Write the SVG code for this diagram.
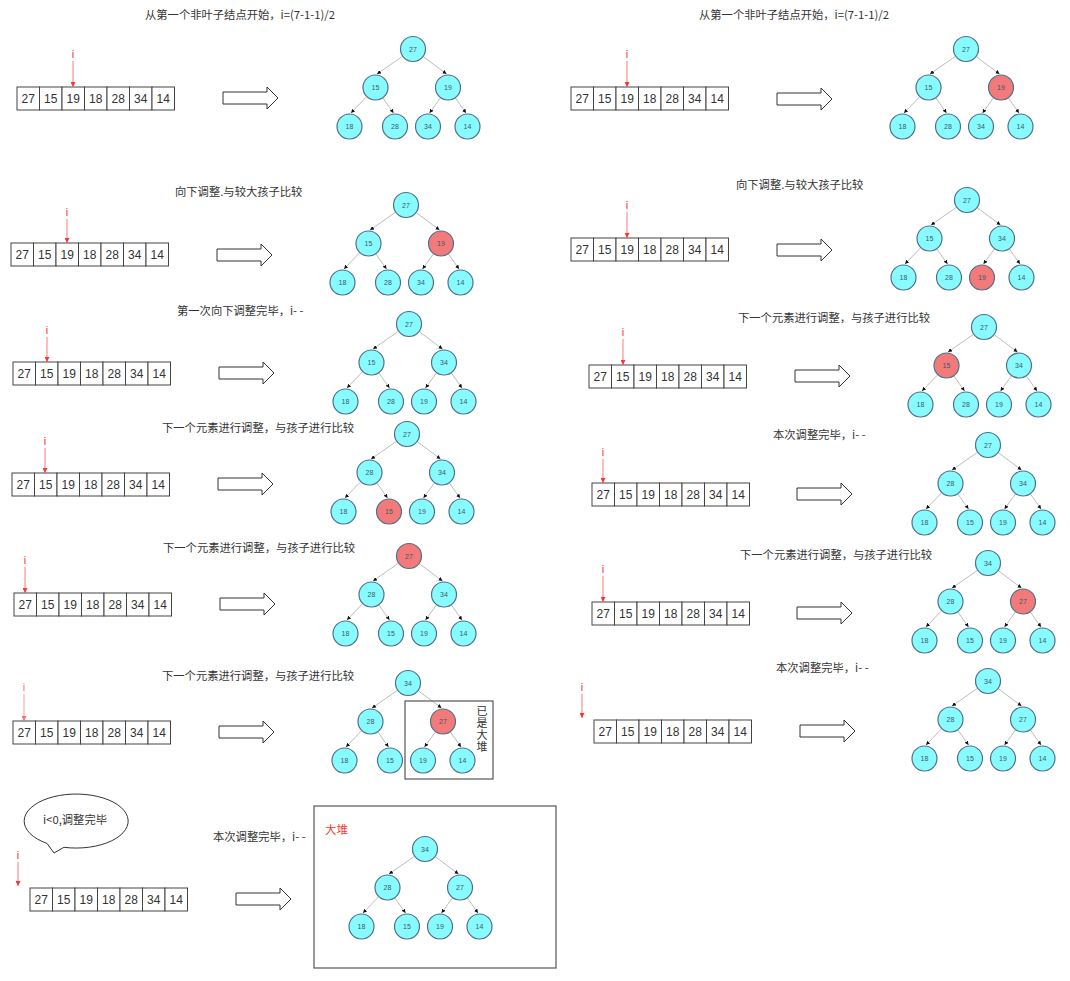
<svg xmlns="http://www.w3.org/2000/svg" width="1070" height="981" viewBox="0 0 1070 981">
<defs>
<marker id="ah" markerUnits="userSpaceOnUse" markerWidth="4" markerHeight="4" refX="4" refY="2" orient="auto"><path d="M0,0 L4,2 L0,4 z" fill="#111"/></marker>
<marker id="rh" markerUnits="userSpaceOnUse" markerWidth="5" markerHeight="5" refX="5" refY="2.5" orient="auto"><path d="M0,0 L5,2.5 L0,5 z" fill="#f33"/></marker>
<style>
.t{font-family:"Noto Sans CJK SC","Liberation Sans",sans-serif;font-size:11.3px;fill:#333}
.cell{fill:#fff;stroke:#444;stroke-width:1}
.ct{font-family:"Liberation Sans",sans-serif;font-size:12px;fill:#333;text-anchor:middle}
.n circle{fill:#87fbff;stroke:#4f7186;stroke-width:1.2}
.n.red circle{fill:#f27a7a}
.nt{font-family:"Liberation Sans",sans-serif;font-size:7px;fill:#3d5a66;text-anchor:middle}
.e{stroke:#bdbdbd;stroke-width:1;fill:none;marker-end:url(#ah)}
.ha{fill:#fff;stroke:#333;stroke-width:1}
.ip{font-family:"Liberation Sans",sans-serif;font-size:11px;fill:#f33;text-anchor:middle}
.il{stroke:#f55;stroke-width:0.8;marker-end:url(#rh)}
.box{fill:none;stroke:#555;stroke-width:1.2}
.red-t{font-family:"Noto Sans CJK SC","Liberation Sans",sans-serif;font-size:11.5px;fill:#f33}
.vt{font-family:"Noto Sans CJK SC","Liberation Sans",sans-serif;font-size:11px;fill:#333;writing-mode:vertical-rl;letter-spacing:1px}
</style>
</defs>

<!-- Panel 1 -->
<g id="panel1">
<text class="t" x="145" y="19">从第一个非叶子结点开始，i=(7-1-1)/2</text>
<g id="p1-array" transform="translate(17,87)">
<rect class="cell" x="0" y="0" width="22.5" height="23"/><rect class="cell" x="22.5" y="0" width="22.5" height="23"/><rect class="cell" x="45" y="0" width="22.5" height="23"/><rect class="cell" x="67.5" y="0" width="22.5" height="23"/><rect class="cell" x="90" y="0" width="22.5" height="23"/><rect class="cell" x="112.5" y="0" width="22.5" height="23"/><rect class="cell" x="135" y="0" width="22.5" height="23"/>
<text class="ct" x="11.25" y="16">27</text><text class="ct" x="33.75" y="16">15</text><text class="ct" x="56.25" y="16">19</text><text class="ct" x="78.75" y="16">18</text><text class="ct" x="101.25" y="16">28</text><text class="ct" x="123.75" y="16">34</text><text class="ct" x="146.25" y="16">14</text>
</g>
<g id="p1-ptr"><text class="ip" x="73" y="58">i</text><line class="il" x1="73" y1="61" x2="73" y2="87"/></g>
<polygon id="p1-arrow" class="ha" transform="translate(223,98)" points="0,-6 44,-6 44,-11 55,0 44,11 44,6 0,6"/>
<g id="p1-tree" transform="translate(413,49)">
<g id="p1-edges"><path class="e" d="M-10.27,7.13 L-36,25"/><path class="e" d="M10.02,7.48 L33.5,25"/><path class="e" d="M-46.16,47.51 L-62,64"/><path class="e" d="M-30.29,48.71 L-19.5,64"/><path class="e" d="M27.66,48.62 L16.5,64"/><path class="e" d="M42.21,48.71 L53,64"/></g>
<g id="p1-n0" class="n"><circle cx="0" cy="0" r="12.5"/><text class="nt" x="0" y="2.5">27</text></g>
<g id="p1-n1" class="n"><circle cx="-37.5" cy="38.5" r="12.5"/><text class="nt" x="-37.5" y="41">15</text></g>
<g id="p1-n2" class="n"><circle cx="35" cy="38.5" r="12.5"/><text class="nt" x="35" y="41">19</text></g>
<g id="p1-n3" class="n"><circle cx="-63.5" cy="77.5" r="12.5"/><text class="nt" x="-63.5" y="80">18</text></g>
<g id="p1-n4" class="n"><circle cx="-18" cy="77.5" r="12.5"/><text class="nt" x="-18" y="80">28</text></g>
<g id="p1-n5" class="n"><circle cx="15" cy="77.5" r="12.5"/><text class="nt" x="15" y="80">34</text></g>
<g id="p1-n6" class="n"><circle cx="54.5" cy="77.5" r="12.5"/><text class="nt" x="54.5" y="80">14</text></g>
</g>
</g>

<!-- Panel 2 -->
<g id="panel2">
<text class="t" x="699" y="19">从第一个非叶子结点开始，i=(7-1-1)/2</text>
<g id="p2-array" transform="translate(571,87)">
<rect class="cell" x="0" y="0" width="22.5" height="23"/><rect class="cell" x="22.5" y="0" width="22.5" height="23"/><rect class="cell" x="45" y="0" width="22.5" height="23"/><rect class="cell" x="67.5" y="0" width="22.5" height="23"/><rect class="cell" x="90" y="0" width="22.5" height="23"/><rect class="cell" x="112.5" y="0" width="22.5" height="23"/><rect class="cell" x="135" y="0" width="22.5" height="23"/>
<text class="ct" x="11.25" y="16">27</text><text class="ct" x="33.75" y="16">15</text><text class="ct" x="56.25" y="16">19</text><text class="ct" x="78.75" y="16">18</text><text class="ct" x="101.25" y="16">28</text><text class="ct" x="123.75" y="16">34</text><text class="ct" x="146.25" y="16">14</text>
</g>
<g id="p2-ptr"><text class="ip" x="627" y="58">i</text><line class="il" x1="627" y1="61" x2="627" y2="87"/></g>
<polygon id="p2-arrow" class="ha" transform="translate(777,99)" points="0,-6 44,-6 44,-11 55,0 44,11 44,6 0,6"/>
<g id="p2-tree" transform="translate(966,49)">
<g id="p2-edges"><path class="e" d="M-10.27,7.13 L-36,25"/><path class="e" d="M10.02,7.48 L33.5,25"/><path class="e" d="M-46.16,47.51 L-62,64"/><path class="e" d="M-30.29,48.71 L-19.5,64"/><path class="e" d="M27.66,48.62 L16.5,64"/><path class="e" d="M42.21,48.71 L53,64"/></g>
<g id="p2-n0" class="n"><circle cx="0" cy="0" r="12.5"/><text class="nt" x="0" y="2.5">27</text></g>
<g id="p2-n1" class="n"><circle cx="-37.5" cy="38.5" r="12.5"/><text class="nt" x="-37.5" y="41">15</text></g>
<g id="p2-n2" class="n red"><circle cx="35" cy="38.5" r="12.5"/><text class="nt" x="35" y="41">19</text></g>
<g id="p2-n3" class="n"><circle cx="-63.5" cy="77.5" r="12.5"/><text class="nt" x="-63.5" y="80">18</text></g>
<g id="p2-n4" class="n"><circle cx="-18" cy="77.5" r="12.5"/><text class="nt" x="-18" y="80">28</text></g>
<g id="p2-n5" class="n"><circle cx="15" cy="77.5" r="12.5"/><text class="nt" x="15" y="80">34</text></g>
<g id="p2-n6" class="n"><circle cx="54.5" cy="77.5" r="12.5"/><text class="nt" x="54.5" y="80">14</text></g>
</g>
</g>

<!-- Panel 3 -->
<g id="panel3">
<text class="t" x="175" y="196">向下调整.与较大孩子比较</text>
<g id="p3-array" transform="translate(11,243)">
<rect class="cell" x="0" y="0" width="22.5" height="23"/><rect class="cell" x="22.5" y="0" width="22.5" height="23"/><rect class="cell" x="45" y="0" width="22.5" height="23"/><rect class="cell" x="67.5" y="0" width="22.5" height="23"/><rect class="cell" x="90" y="0" width="22.5" height="23"/><rect class="cell" x="112.5" y="0" width="22.5" height="23"/><rect class="cell" x="135" y="0" width="22.5" height="23"/>
<text class="ct" x="11.25" y="16">27</text><text class="ct" x="33.75" y="16">15</text><text class="ct" x="56.25" y="16">19</text><text class="ct" x="78.75" y="16">18</text><text class="ct" x="101.25" y="16">28</text><text class="ct" x="123.75" y="16">34</text><text class="ct" x="146.25" y="16">14</text>
</g>
<g id="p3-ptr"><text class="ip" x="67" y="216">i</text><line class="il" x1="67" y1="219" x2="67" y2="243"/></g>
<polygon id="p3-arrow" class="ha" transform="translate(217,255)" points="0,-6 44,-6 44,-11 55,0 44,11 44,6 0,6"/>
<g id="p3-tree" transform="translate(406,205)">
<g id="p3-edges"><path class="e" d="M-10.27,7.13 L-36,25"/><path class="e" d="M10.02,7.48 L33.5,25"/><path class="e" d="M-46.16,47.51 L-62,64"/><path class="e" d="M-30.29,48.71 L-19.5,64"/><path class="e" d="M27.66,48.62 L16.5,64"/><path class="e" d="M42.21,48.71 L53,64"/></g>
<g id="p3-n0" class="n"><circle cx="0" cy="0" r="12.5"/><text class="nt" x="0" y="2.5">27</text></g>
<g id="p3-n1" class="n"><circle cx="-37.5" cy="38.5" r="12.5"/><text class="nt" x="-37.5" y="41">15</text></g>
<g id="p3-n2" class="n red"><circle cx="35" cy="38.5" r="12.5"/><text class="nt" x="35" y="41">19</text></g>
<g id="p3-n3" class="n"><circle cx="-63.5" cy="77.5" r="12.5"/><text class="nt" x="-63.5" y="80">18</text></g>
<g id="p3-n4" class="n"><circle cx="-18" cy="77.5" r="12.5"/><text class="nt" x="-18" y="80">28</text></g>
<g id="p3-n5" class="n"><circle cx="15" cy="77.5" r="12.5"/><text class="nt" x="15" y="80">34</text></g>
<g id="p3-n6" class="n"><circle cx="54.5" cy="77.5" r="12.5"/><text class="nt" x="54.5" y="80">14</text></g>
</g>
</g>

<!-- Panel 4 -->
<g id="panel4">
<text class="t" x="736" y="189">向下调整.与较大孩子比较</text>
<g id="p4-array" transform="translate(571,238)">
<rect class="cell" x="0" y="0" width="22.5" height="23"/><rect class="cell" x="22.5" y="0" width="22.5" height="23"/><rect class="cell" x="45" y="0" width="22.5" height="23"/><rect class="cell" x="67.5" y="0" width="22.5" height="23"/><rect class="cell" x="90" y="0" width="22.5" height="23"/><rect class="cell" x="112.5" y="0" width="22.5" height="23"/><rect class="cell" x="135" y="0" width="22.5" height="23"/>
<text class="ct" x="11.25" y="16">27</text><text class="ct" x="33.75" y="16">15</text><text class="ct" x="56.25" y="16">19</text><text class="ct" x="78.75" y="16">18</text><text class="ct" x="101.25" y="16">28</text><text class="ct" x="123.75" y="16">34</text><text class="ct" x="146.25" y="16">14</text>
</g>
<g id="p4-ptr"><text class="ip" x="627" y="209">i</text><line class="il" x1="627" y1="212" x2="627" y2="238"/></g>
<polygon id="p4-arrow" class="ha" transform="translate(777,250)" points="0,-6 44,-6 44,-11 55,0 44,11 44,6 0,6"/>
<g id="p4-tree" transform="translate(967,200)">
<g id="p4-edges"><path class="e" d="M-10.27,7.13 L-36,25"/><path class="e" d="M10.02,7.48 L33.5,25"/><path class="e" d="M-46.16,47.51 L-62,64"/><path class="e" d="M-30.29,48.71 L-19.5,64"/><path class="e" d="M27.66,48.62 L16.5,64"/><path class="e" d="M42.21,48.71 L53,64"/></g>
<g id="p4-n0" class="n"><circle cx="0" cy="0" r="12.5"/><text class="nt" x="0" y="2.5">27</text></g>
<g id="p4-n1" class="n"><circle cx="-37.5" cy="38.5" r="12.5"/><text class="nt" x="-37.5" y="41">15</text></g>
<g id="p4-n2" class="n"><circle cx="35" cy="38.5" r="12.5"/><text class="nt" x="35" y="41">34</text></g>
<g id="p4-n3" class="n"><circle cx="-63.5" cy="77.5" r="12.5"/><text class="nt" x="-63.5" y="80">18</text></g>
<g id="p4-n4" class="n"><circle cx="-18" cy="77.5" r="12.5"/><text class="nt" x="-18" y="80">28</text></g>
<g id="p4-n5" class="n red"><circle cx="15" cy="77.5" r="12.5"/><text class="nt" x="15" y="80">19</text></g>
<g id="p4-n6" class="n"><circle cx="54.5" cy="77.5" r="12.5"/><text class="nt" x="54.5" y="80">14</text></g>
</g>
</g>

<!-- Panel 5 -->
<g id="panel5">
<text class="t" x="177" y="315">第一次向下调整完毕，i- -</text>
<g id="p5-array" transform="translate(13,362)">
<rect class="cell" x="0" y="0" width="22.5" height="23"/><rect class="cell" x="22.5" y="0" width="22.5" height="23"/><rect class="cell" x="45" y="0" width="22.5" height="23"/><rect class="cell" x="67.5" y="0" width="22.5" height="23"/><rect class="cell" x="90" y="0" width="22.5" height="23"/><rect class="cell" x="112.5" y="0" width="22.5" height="23"/><rect class="cell" x="135" y="0" width="22.5" height="23"/>
<text class="ct" x="11.25" y="16">27</text><text class="ct" x="33.75" y="16">15</text><text class="ct" x="56.25" y="16">19</text><text class="ct" x="78.75" y="16">18</text><text class="ct" x="101.25" y="16">28</text><text class="ct" x="123.75" y="16">34</text><text class="ct" x="146.25" y="16">14</text>
</g>
<g id="p5-ptr"><text class="ip" x="47" y="334">i</text><line class="il" x1="47" y1="337" x2="47" y2="362"/></g>
<polygon id="p5-arrow" class="ha" transform="translate(219,373)" points="0,-6 44,-6 44,-11 55,0 44,11 44,6 0,6"/>
<g id="p5-tree" transform="translate(409,324)">
<g id="p5-edges"><path class="e" d="M-10.27,7.13 L-36,25"/><path class="e" d="M10.02,7.48 L33.5,25"/><path class="e" d="M-46.16,47.51 L-62,64"/><path class="e" d="M-30.29,48.71 L-19.5,64"/><path class="e" d="M27.66,48.62 L16.5,64"/><path class="e" d="M42.21,48.71 L53,64"/></g>
<g id="p5-n0" class="n"><circle cx="0" cy="0" r="12.5"/><text class="nt" x="0" y="2.5">27</text></g>
<g id="p5-n1" class="n"><circle cx="-37.5" cy="38.5" r="12.5"/><text class="nt" x="-37.5" y="41">15</text></g>
<g id="p5-n2" class="n"><circle cx="35" cy="38.5" r="12.5"/><text class="nt" x="35" y="41">34</text></g>
<g id="p5-n3" class="n"><circle cx="-63.5" cy="77.5" r="12.5"/><text class="nt" x="-63.5" y="80">18</text></g>
<g id="p5-n4" class="n"><circle cx="-18" cy="77.5" r="12.5"/><text class="nt" x="-18" y="80">28</text></g>
<g id="p5-n5" class="n"><circle cx="15" cy="77.5" r="12.5"/><text class="nt" x="15" y="80">19</text></g>
<g id="p5-n6" class="n"><circle cx="54.5" cy="77.5" r="12.5"/><text class="nt" x="54.5" y="80">14</text></g>
</g>
</g>

<!-- Panel 6 -->
<g id="panel6">
<text class="t" x="738" y="322">下一个元素进行调整，与孩子进行比较</text>
<g id="p6-array" transform="translate(589,365)">
<rect class="cell" x="0" y="0" width="22.5" height="23"/><rect class="cell" x="22.5" y="0" width="22.5" height="23"/><rect class="cell" x="45" y="0" width="22.5" height="23"/><rect class="cell" x="67.5" y="0" width="22.5" height="23"/><rect class="cell" x="90" y="0" width="22.5" height="23"/><rect class="cell" x="112.5" y="0" width="22.5" height="23"/><rect class="cell" x="135" y="0" width="22.5" height="23"/>
<text class="ct" x="11.25" y="16">27</text><text class="ct" x="33.75" y="16">15</text><text class="ct" x="56.25" y="16">19</text><text class="ct" x="78.75" y="16">18</text><text class="ct" x="101.25" y="16">28</text><text class="ct" x="123.75" y="16">34</text><text class="ct" x="146.25" y="16">14</text>
</g>
<g id="p6-ptr"><text class="ip" x="623" y="336">i</text><line class="il" x1="623" y1="339" x2="623" y2="365"/></g>
<polygon id="p6-arrow" class="ha" transform="translate(795,376)" points="0,-6 44,-6 44,-11 55,0 44,11 44,6 0,6"/>
<g id="p6-tree" transform="translate(984,327)">
<g id="p6-edges"><path class="e" d="M-10.27,7.13 L-36,25"/><path class="e" d="M10.02,7.48 L33.5,25"/><path class="e" d="M-46.16,47.51 L-62,64"/><path class="e" d="M-30.29,48.71 L-19.5,64"/><path class="e" d="M27.66,48.62 L16.5,64"/><path class="e" d="M42.21,48.71 L53,64"/></g>
<g id="p6-n0" class="n"><circle cx="0" cy="0" r="12.5"/><text class="nt" x="0" y="2.5">27</text></g>
<g id="p6-n1" class="n red"><circle cx="-37.5" cy="38.5" r="12.5"/><text class="nt" x="-37.5" y="41">15</text></g>
<g id="p6-n2" class="n"><circle cx="35" cy="38.5" r="12.5"/><text class="nt" x="35" y="41">34</text></g>
<g id="p6-n3" class="n"><circle cx="-63.5" cy="77.5" r="12.5"/><text class="nt" x="-63.5" y="80">18</text></g>
<g id="p6-n4" class="n"><circle cx="-18" cy="77.5" r="12.5"/><text class="nt" x="-18" y="80">28</text></g>
<g id="p6-n5" class="n"><circle cx="15" cy="77.5" r="12.5"/><text class="nt" x="15" y="80">19</text></g>
<g id="p6-n6" class="n"><circle cx="54.5" cy="77.5" r="12.5"/><text class="nt" x="54.5" y="80">14</text></g>
</g>
</g>

<!-- Panel 7 -->
<g id="panel7">
<text class="t" x="162" y="432">下一个元素进行调整，与孩子进行比较</text>
<g id="p7-array" transform="translate(12,473)">
<rect class="cell" x="0" y="0" width="22.5" height="23"/><rect class="cell" x="22.5" y="0" width="22.5" height="23"/><rect class="cell" x="45" y="0" width="22.5" height="23"/><rect class="cell" x="67.5" y="0" width="22.5" height="23"/><rect class="cell" x="90" y="0" width="22.5" height="23"/><rect class="cell" x="112.5" y="0" width="22.5" height="23"/><rect class="cell" x="135" y="0" width="22.5" height="23"/>
<text class="ct" x="11.25" y="16">27</text><text class="ct" x="33.75" y="16">15</text><text class="ct" x="56.25" y="16">19</text><text class="ct" x="78.75" y="16">18</text><text class="ct" x="101.25" y="16">28</text><text class="ct" x="123.75" y="16">34</text><text class="ct" x="146.25" y="16">14</text>
</g>
<g id="p7-ptr"><text class="ip" x="45" y="445">i</text><line class="il" x1="45" y1="448" x2="45" y2="473"/></g>
<polygon id="p7-arrow" class="ha" transform="translate(218,484)" points="0,-6 44,-6 44,-11 55,0 44,11 44,6 0,6"/>
<g id="p7-tree" transform="translate(407,434)">
<g id="p7-edges"><path class="e" d="M-10.27,7.13 L-36,25"/><path class="e" d="M10.02,7.48 L33.5,25"/><path class="e" d="M-46.16,47.51 L-62,64"/><path class="e" d="M-30.29,48.71 L-19.5,64"/><path class="e" d="M27.66,48.62 L16.5,64"/><path class="e" d="M42.21,48.71 L53,64"/></g>
<g id="p7-n0" class="n"><circle cx="0" cy="0" r="12.5"/><text class="nt" x="0" y="2.5">27</text></g>
<g id="p7-n1" class="n"><circle cx="-37.5" cy="38.5" r="12.5"/><text class="nt" x="-37.5" y="41">28</text></g>
<g id="p7-n2" class="n"><circle cx="35" cy="38.5" r="12.5"/><text class="nt" x="35" y="41">34</text></g>
<g id="p7-n3" class="n"><circle cx="-63.5" cy="77.5" r="12.5"/><text class="nt" x="-63.5" y="80">18</text></g>
<g id="p7-n4" class="n red"><circle cx="-18" cy="77.5" r="12.5"/><text class="nt" x="-18" y="80">15</text></g>
<g id="p7-n5" class="n"><circle cx="15" cy="77.5" r="12.5"/><text class="nt" x="15" y="80">19</text></g>
<g id="p7-n6" class="n"><circle cx="54.5" cy="77.5" r="12.5"/><text class="nt" x="54.5" y="80">14</text></g>
</g>
</g>

<!-- Panel 8 -->
<g id="panel8">
<text class="t" x="773" y="439">本次调整完毕，i- -</text>
<g id="p8-array" transform="translate(592,483)">
<rect class="cell" x="0" y="0" width="22.5" height="23"/><rect class="cell" x="22.5" y="0" width="22.5" height="23"/><rect class="cell" x="45" y="0" width="22.5" height="23"/><rect class="cell" x="67.5" y="0" width="22.5" height="23"/><rect class="cell" x="90" y="0" width="22.5" height="23"/><rect class="cell" x="112.5" y="0" width="22.5" height="23"/><rect class="cell" x="135" y="0" width="22.5" height="23"/>
<text class="ct" x="11.25" y="16">27</text><text class="ct" x="33.75" y="16">15</text><text class="ct" x="56.25" y="16">19</text><text class="ct" x="78.75" y="16">18</text><text class="ct" x="101.25" y="16">28</text><text class="ct" x="123.75" y="16">34</text><text class="ct" x="146.25" y="16">14</text>
</g>
<g id="p8-ptr"><text class="ip" x="603" y="456">i</text><line class="il" x1="603" y1="459" x2="603" y2="483"/></g>
<polygon id="p8-arrow" class="ha" transform="translate(797,494)" points="0,-6 44,-6 44,-11 55,0 44,11 44,6 0,6"/>
<g id="p8-tree" transform="translate(988,445)">
<g id="p8-edges"><path class="e" d="M-10.27,7.13 L-36,25"/><path class="e" d="M10.02,7.48 L33.5,25"/><path class="e" d="M-46.16,47.51 L-62,64"/><path class="e" d="M-30.29,48.71 L-19.5,64"/><path class="e" d="M27.66,48.62 L16.5,64"/><path class="e" d="M42.21,48.71 L53,64"/></g>
<g id="p8-n0" class="n"><circle cx="0" cy="0" r="12.5"/><text class="nt" x="0" y="2.5">27</text></g>
<g id="p8-n1" class="n"><circle cx="-37.5" cy="38.5" r="12.5"/><text class="nt" x="-37.5" y="41">28</text></g>
<g id="p8-n2" class="n"><circle cx="35" cy="38.5" r="12.5"/><text class="nt" x="35" y="41">34</text></g>
<g id="p8-n3" class="n"><circle cx="-63.5" cy="77.5" r="12.5"/><text class="nt" x="-63.5" y="80">18</text></g>
<g id="p8-n4" class="n"><circle cx="-18" cy="77.5" r="12.5"/><text class="nt" x="-18" y="80">15</text></g>
<g id="p8-n5" class="n"><circle cx="15" cy="77.5" r="12.5"/><text class="nt" x="15" y="80">19</text></g>
<g id="p8-n6" class="n"><circle cx="54.5" cy="77.5" r="12.5"/><text class="nt" x="54.5" y="80">14</text></g>
</g>
</g>

<!-- Panel 9 -->
<g id="panel9">
<text class="t" x="163" y="552">下一个元素进行调整，与孩子进行比较</text>
<g id="p9-array" transform="translate(14,593)">
<rect class="cell" x="0" y="0" width="22.5" height="23"/><rect class="cell" x="22.5" y="0" width="22.5" height="23"/><rect class="cell" x="45" y="0" width="22.5" height="23"/><rect class="cell" x="67.5" y="0" width="22.5" height="23"/><rect class="cell" x="90" y="0" width="22.5" height="23"/><rect class="cell" x="112.5" y="0" width="22.5" height="23"/><rect class="cell" x="135" y="0" width="22.5" height="23"/>
<text class="ct" x="11.25" y="16">27</text><text class="ct" x="33.75" y="16">15</text><text class="ct" x="56.25" y="16">19</text><text class="ct" x="78.75" y="16">18</text><text class="ct" x="101.25" y="16">28</text><text class="ct" x="123.75" y="16">34</text><text class="ct" x="146.25" y="16">14</text>
</g>
<g id="p9-ptr"><text class="ip" x="25" y="564">i</text><line class="il" x1="25" y1="567" x2="25" y2="593"/></g>
<polygon id="p9-arrow" class="ha" transform="translate(220,604)" points="0,-6 44,-6 44,-11 55,0 44,11 44,6 0,6"/>
<g id="p9-tree" transform="translate(409,556)">
<g id="p9-edges"><path class="e" d="M-10.27,7.13 L-36,25"/><path class="e" d="M10.02,7.48 L33.5,25"/><path class="e" d="M-46.16,47.51 L-62,64"/><path class="e" d="M-30.29,48.71 L-19.5,64"/><path class="e" d="M27.66,48.62 L16.5,64"/><path class="e" d="M42.21,48.71 L53,64"/></g>
<g id="p9-n0" class="n red"><circle cx="0" cy="0" r="12.5"/><text class="nt" x="0" y="2.5">27</text></g>
<g id="p9-n1" class="n"><circle cx="-37.5" cy="38.5" r="12.5"/><text class="nt" x="-37.5" y="41">28</text></g>
<g id="p9-n2" class="n"><circle cx="35" cy="38.5" r="12.5"/><text class="nt" x="35" y="41">34</text></g>
<g id="p9-n3" class="n"><circle cx="-63.5" cy="77.5" r="12.5"/><text class="nt" x="-63.5" y="80">18</text></g>
<g id="p9-n4" class="n"><circle cx="-18" cy="77.5" r="12.5"/><text class="nt" x="-18" y="80">15</text></g>
<g id="p9-n5" class="n"><circle cx="15" cy="77.5" r="12.5"/><text class="nt" x="15" y="80">19</text></g>
<g id="p9-n6" class="n"><circle cx="54.5" cy="77.5" r="12.5"/><text class="nt" x="54.5" y="80">14</text></g>
</g>
</g>

<!-- Panel 10 -->
<g id="panel10">
<text class="t" x="740" y="559">下一个元素进行调整，与孩子进行比较</text>
<g id="p10-array" transform="translate(592,602)">
<rect class="cell" x="0" y="0" width="22.5" height="23"/><rect class="cell" x="22.5" y="0" width="22.5" height="23"/><rect class="cell" x="45" y="0" width="22.5" height="23"/><rect class="cell" x="67.5" y="0" width="22.5" height="23"/><rect class="cell" x="90" y="0" width="22.5" height="23"/><rect class="cell" x="112.5" y="0" width="22.5" height="23"/><rect class="cell" x="135" y="0" width="22.5" height="23"/>
<text class="ct" x="11.25" y="16">27</text><text class="ct" x="33.75" y="16">15</text><text class="ct" x="56.25" y="16">19</text><text class="ct" x="78.75" y="16">18</text><text class="ct" x="101.25" y="16">28</text><text class="ct" x="123.75" y="16">34</text><text class="ct" x="146.25" y="16">14</text>
</g>
<g id="p10-ptr"><text class="ip" x="603" y="573">i</text><line class="il" x1="603" y1="576" x2="603" y2="602"/></g>
<polygon id="p10-arrow" class="ha" transform="translate(797,613)" points="0,-6 44,-6 44,-11 55,0 44,11 44,6 0,6"/>
<g id="p10-tree" transform="translate(988,563)">
<g id="p10-edges"><path class="e" d="M-10.27,7.13 L-36,25"/><path class="e" d="M10.02,7.48 L33.5,25"/><path class="e" d="M-46.16,47.51 L-62,64"/><path class="e" d="M-30.29,48.71 L-19.5,64"/><path class="e" d="M27.66,48.62 L16.5,64"/><path class="e" d="M42.21,48.71 L53,64"/></g>
<g id="p10-n0" class="n"><circle cx="0" cy="0" r="12.5"/><text class="nt" x="0" y="2.5">34</text></g>
<g id="p10-n1" class="n"><circle cx="-37.5" cy="38.5" r="12.5"/><text class="nt" x="-37.5" y="41">28</text></g>
<g id="p10-n2" class="n red"><circle cx="35" cy="38.5" r="12.5"/><text class="nt" x="35" y="41">27</text></g>
<g id="p10-n3" class="n"><circle cx="-63.5" cy="77.5" r="12.5"/><text class="nt" x="-63.5" y="80">18</text></g>
<g id="p10-n4" class="n"><circle cx="-18" cy="77.5" r="12.5"/><text class="nt" x="-18" y="80">15</text></g>
<g id="p10-n5" class="n"><circle cx="15" cy="77.5" r="12.5"/><text class="nt" x="15" y="80">19</text></g>
<g id="p10-n6" class="n"><circle cx="54.5" cy="77.5" r="12.5"/><text class="nt" x="54.5" y="80">14</text></g>
</g>
</g>

<!-- Panel 11 -->
<g id="panel11">
<text class="t" x="162" y="680">下一个元素进行调整，与孩子进行比较</text>
<g id="p11-array" transform="translate(13,721)">
<rect class="cell" x="0" y="0" width="22.5" height="23"/><rect class="cell" x="22.5" y="0" width="22.5" height="23"/><rect class="cell" x="45" y="0" width="22.5" height="23"/><rect class="cell" x="67.5" y="0" width="22.5" height="23"/><rect class="cell" x="90" y="0" width="22.5" height="23"/><rect class="cell" x="112.5" y="0" width="22.5" height="23"/><rect class="cell" x="135" y="0" width="22.5" height="23"/>
<text class="ct" x="11.25" y="16">27</text><text class="ct" x="33.75" y="16">15</text><text class="ct" x="56.25" y="16">19</text><text class="ct" x="78.75" y="16">18</text><text class="ct" x="101.25" y="16">28</text><text class="ct" x="123.75" y="16">34</text><text class="ct" x="146.25" y="16">14</text>
</g>
<g id="p11-ptr" opacity="0.7"><text class="ip" x="24" y="691">i</text><line class="il" x1="24" y1="694" x2="24" y2="721"/></g>
<polygon id="p11-arrow" class="ha" transform="translate(219,732)" points="0,-6 44,-6 44,-11 55,0 44,11 44,6 0,6"/>
<g id="p11-tree" transform="translate(408,683)">
<g id="p11-edges"><path class="e" d="M-10.27,7.13 L-36,25"/><path class="e" d="M10.02,7.48 L33.5,25"/><path class="e" d="M-46.16,47.51 L-62,64"/><path class="e" d="M-30.29,48.71 L-19.5,64"/><path class="e" d="M27.66,48.62 L16.5,64"/><path class="e" d="M42.21,48.71 L53,64"/></g>
<g id="p11-n0" class="n"><circle cx="0" cy="0" r="12.5"/><text class="nt" x="0" y="2.5">34</text></g>
<g id="p11-n1" class="n"><circle cx="-37.5" cy="38.5" r="12.5"/><text class="nt" x="-37.5" y="41">28</text></g>
<g id="p11-n2" class="n red"><circle cx="35" cy="38.5" r="12.5"/><text class="nt" x="35" y="41">27</text></g>
<g id="p11-n3" class="n"><circle cx="-63.5" cy="77.5" r="12.5"/><text class="nt" x="-63.5" y="80">18</text></g>
<g id="p11-n4" class="n"><circle cx="-18" cy="77.5" r="12.5"/><text class="nt" x="-18" y="80">15</text></g>
<g id="p11-n5" class="n"><circle cx="15" cy="77.5" r="12.5"/><text class="nt" x="15" y="80">19</text></g>
<g id="p11-n6" class="n"><circle cx="54.5" cy="77.5" r="12.5"/><text class="nt" x="54.5" y="80">14</text></g>
</g>
<g id="p11-heapbox">
<rect class="box" x="405" y="701" width="88" height="78"/>
<text class="vt" x="482" y="705">已是大堆</text>
</g>
</g>

<!-- Panel 12 -->
<g id="panel12">
<text class="t" x="776" y="672">本次调整完毕，i- -</text>
<g id="p12-array" transform="translate(594,720)">
<rect class="cell" x="0" y="0" width="22.5" height="23"/><rect class="cell" x="22.5" y="0" width="22.5" height="23"/><rect class="cell" x="45" y="0" width="22.5" height="23"/><rect class="cell" x="67.5" y="0" width="22.5" height="23"/><rect class="cell" x="90" y="0" width="22.5" height="23"/><rect class="cell" x="112.5" y="0" width="22.5" height="23"/><rect class="cell" x="135" y="0" width="22.5" height="23"/>
<text class="ct" x="11.25" y="16">27</text><text class="ct" x="33.75" y="16">15</text><text class="ct" x="56.25" y="16">19</text><text class="ct" x="78.75" y="16">18</text><text class="ct" x="101.25" y="16">28</text><text class="ct" x="123.75" y="16">34</text><text class="ct" x="146.25" y="16">14</text>
</g>
<g id="p12-ptr"><text class="ip" x="582" y="691">i</text><line class="il" x1="582" y1="694" x2="582" y2="718"/></g>
<polygon id="p12-arrow" class="ha" transform="translate(800,731)" points="0,-6 44,-6 44,-11 55,0 44,11 44,6 0,6"/>
<g id="p12-tree" transform="translate(988,681)">
<g id="p12-edges"><path class="e" d="M-10.27,7.13 L-36,25"/><path class="e" d="M10.02,7.48 L33.5,25"/><path class="e" d="M-46.16,47.51 L-62,64"/><path class="e" d="M-30.29,48.71 L-19.5,64"/><path class="e" d="M27.66,48.62 L16.5,64"/><path class="e" d="M42.21,48.71 L53,64"/></g>
<g id="p12-n0" class="n"><circle cx="0" cy="0" r="12.5"/><text class="nt" x="0" y="2.5">34</text></g>
<g id="p12-n1" class="n"><circle cx="-37.5" cy="38.5" r="12.5"/><text class="nt" x="-37.5" y="41">28</text></g>
<g id="p12-n2" class="n"><circle cx="35" cy="38.5" r="12.5"/><text class="nt" x="35" y="41">27</text></g>
<g id="p12-n3" class="n"><circle cx="-63.5" cy="77.5" r="12.5"/><text class="nt" x="-63.5" y="80">18</text></g>
<g id="p12-n4" class="n"><circle cx="-18" cy="77.5" r="12.5"/><text class="nt" x="-18" y="80">15</text></g>
<g id="p12-n5" class="n"><circle cx="15" cy="77.5" r="12.5"/><text class="nt" x="15" y="80">19</text></g>
<g id="p12-n6" class="n"><circle cx="54.5" cy="77.5" r="12.5"/><text class="nt" x="54.5" y="80">14</text></g>
</g>
</g>

<!-- Panel 13 -->
<g id="panel13">
<g id="p13-bubble">
<path d="M47,843.4 L54,853 L64,847.3 A52,27 0 1,0 47,843.4 Z" fill="#fff" stroke="#333" stroke-width="1"/>
<text class="t" x="75" y="824" text-anchor="middle">i&lt;0,调整完毕</text>
</g>
<text class="t" x="213" y="841">本次调整完毕，i- -</text>
<g id="p13-array" transform="translate(30,888)">
<rect class="cell" x="0" y="0" width="22.5" height="23"/><rect class="cell" x="22.5" y="0" width="22.5" height="23"/><rect class="cell" x="45" y="0" width="22.5" height="23"/><rect class="cell" x="67.5" y="0" width="22.5" height="23"/><rect class="cell" x="90" y="0" width="22.5" height="23"/><rect class="cell" x="112.5" y="0" width="22.5" height="23"/><rect class="cell" x="135" y="0" width="22.5" height="23"/>
<text class="ct" x="11.25" y="16">27</text><text class="ct" x="33.75" y="16">15</text><text class="ct" x="56.25" y="16">19</text><text class="ct" x="78.75" y="16">18</text><text class="ct" x="101.25" y="16">28</text><text class="ct" x="123.75" y="16">34</text><text class="ct" x="146.25" y="16">14</text>
</g>
<g id="p13-ptr"><text class="ip" x="18" y="859">i</text><line class="il" x1="18" y1="862" x2="18" y2="886"/></g>
<polygon id="p13-arrow" class="ha" transform="translate(236,899)" points="0,-6 44,-6 44,-11 55,0 44,11 44,6 0,6"/>
<rect id="p13-box" class="box" x="314" y="806" width="242" height="162"/>
<text class="red-t" x="325" y="834">大堆</text>
<g id="p13-tree" transform="translate(425,849)">
<g id="p13-edges"><path class="e" d="M-10.27,7.13 L-36,25"/><path class="e" d="M10.02,7.48 L33.5,25"/><path class="e" d="M-46.16,47.51 L-62,64"/><path class="e" d="M-30.29,48.71 L-19.5,64"/><path class="e" d="M27.66,48.62 L16.5,64"/><path class="e" d="M42.21,48.71 L53,64"/></g>
<g id="p13-n0" class="n"><circle cx="0" cy="0" r="12.5"/><text class="nt" x="0" y="2.5">34</text></g>
<g id="p13-n1" class="n"><circle cx="-37.5" cy="38.5" r="12.5"/><text class="nt" x="-37.5" y="41">28</text></g>
<g id="p13-n2" class="n"><circle cx="35" cy="38.5" r="12.5"/><text class="nt" x="35" y="41">27</text></g>
<g id="p13-n3" class="n"><circle cx="-63.5" cy="77.5" r="12.5"/><text class="nt" x="-63.5" y="80">18</text></g>
<g id="p13-n4" class="n"><circle cx="-18" cy="77.5" r="12.5"/><text class="nt" x="-18" y="80">15</text></g>
<g id="p13-n5" class="n"><circle cx="15" cy="77.5" r="12.5"/><text class="nt" x="15" y="80">19</text></g>
<g id="p13-n6" class="n"><circle cx="54.5" cy="77.5" r="12.5"/><text class="nt" x="54.5" y="80">14</text></g>
</g>
</g>
</svg>
